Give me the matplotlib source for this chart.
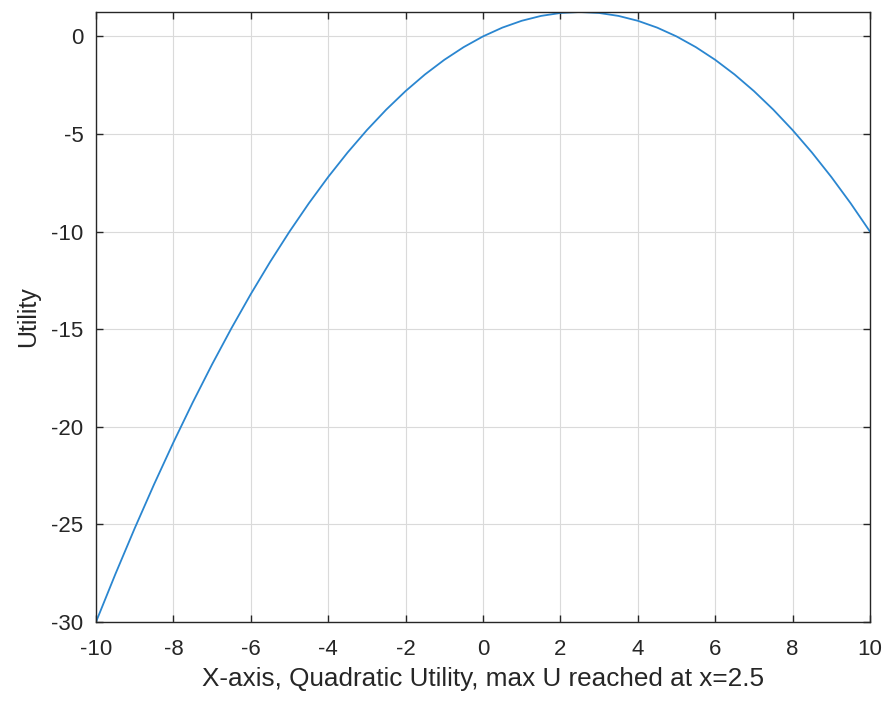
import matplotlib
matplotlib.use("Agg")
import matplotlib.pyplot as plt

# sampled utility curve
x_vals = [-10, -9.5, -9, -8.5, -8, -7.5, -7, -6.5, -6, -5.5, -5, -4.5, -4, -3.5, -3,
          -2.5, -2, -1.5, -1, -0.5, 0, 0.5, 1, 1.5, 2, 2.5, 3, 3.5, 4, 4.5, 5,
          5.5, 6, 6.5, 7, 7.5, 8, 8.5, 9, 9.5, 10]
u_vals = [-30, -27.55, -25.2, -22.95, -20.8, -18.75, -16.8, -14.95, -13.2, -11.55, -10,
          -8.55, -7.2, -5.95, -4.8, -3.75, -2.8, -1.95, -1.2, -0.55, 0, 0.45, 0.8,
          1.05, 1.2, 1.25, 1.2, 1.05, 0.8, 0.45, 0, -0.55, -1.2, -1.95, -2.8,
          -3.75, -4.8, -5.95, -7.2, -8.55, -10]
x_ticks = list(range(-10, 11, 2))
y_ticks = [-30, -25, -20, -15, -10, -5, 0]

AX = "#262626"

plt.rcParams["font.family"] = ["Liberation Sans", "DejaVu Sans"]
plt.rcParams["axes.unicode_minus"] = False

fig = plt.figure(figsize=(8.88, 7.06), dpi=100)
ax = fig.add_axes([96 / 888, 1 - 622 / 706, (870 - 96) / 888, (622 - 12) / 706])

ax.plot(x_vals, u_vals, color="#2a86d0", lw=1.3)
ax.set_xlim(-10, 10)
ax.set_ylim(-30, max(u_vals))
ax.set_xticks(x_ticks)
ax.set_yticks(y_ticks)
ax.grid(True, color="#dadada", lw=0.8)
ax.set_axisbelow(True)

for s in ax.spines.values():
    s.set_color(AX)
    s.set_linewidth(1.0)
ax.tick_params(direction="in", length=5, width=1.0, colors=AX, labelsize=16,
               top=True, right=True)
ax.tick_params(axis="x", pad=12)
ax.tick_params(axis="y", pad=9)
ax.set_xlabel("X-axis, Quadratic Utility, max U reached at x=2.5", fontsize=18.8, color=AX, labelpad=5)
ax.set_ylabel("Utility", fontsize=18, color=AX, labelpad=8)

fig.savefig("out.png", dpi=100, facecolor="white")
